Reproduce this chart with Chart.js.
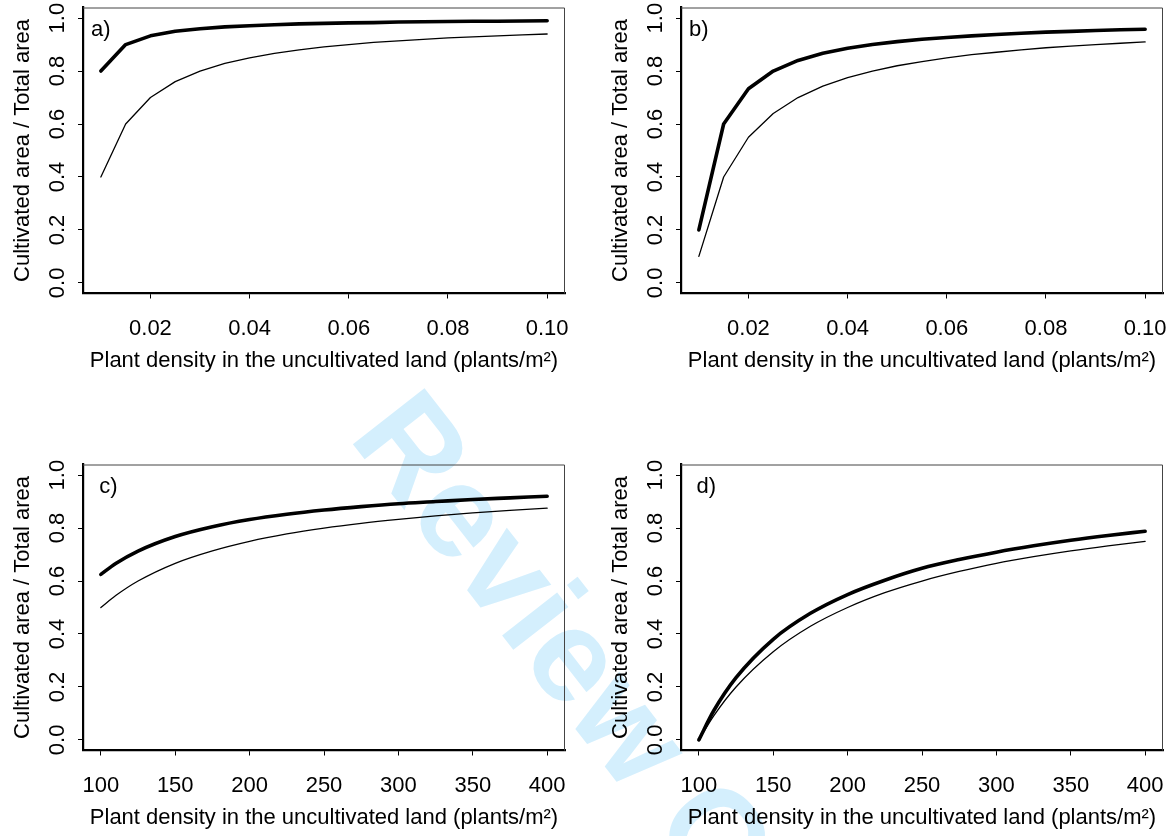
<!DOCTYPE html>
<html>
<head>
<meta charset="utf-8">
<script src="https://cdn.jsdelivr.net/npm/chart.js@4.4.1/dist/chart.umd.min.js"></script>
<style>
  html, body { margin: 0; padding: 0; background: #fff; }
  body { width: 1173px; height: 836px; position: relative; overflow: hidden; }
  canvas { position: absolute; z-index: 1; }
  #wm {
    position: absolute; left: 435px; top: 369px; z-index: 0;
    font: bold 132px "Liberation Sans", Arial, sans-serif; line-height: 1;
    color: #d4effd; white-space: nowrap;
    transform-origin: 0 0; transform: rotate(52deg);
  }
</style>
</head>
<body>
<div id="wm">Review Copy</div>
<canvas id="pa" width="586" height="375" style="left:0;top:0"></canvas>
<canvas id="pb" width="586" height="375" style="left:598px;top:0"></canvas>
<canvas id="pc" width="586" height="380" style="left:0;top:457px"></canvas>
<canvas id="pd" width="586" height="380" style="left:598px;top:457px"></canvas>
<script>
// plant density (plants/m2) for panels a and b
const xAB = [0.010, 0.015, 0.020, 0.025, 0.030, 0.035, 0.040, 0.045, 0.050, 0.055,
             0.060, 0.065, 0.070, 0.075, 0.080, 0.085, 0.090, 0.095, 0.100];
const aThick = [0.800, 0.900, 0.933, 0.950, 0.960, 0.967, 0.971, 0.975, 0.978, 0.980,
                0.982, 0.983, 0.985, 0.986, 0.987, 0.988, 0.988, 0.989, 0.990];
const aThin  = [0.400, 0.600, 0.700, 0.760, 0.800, 0.829, 0.850, 0.867, 0.880, 0.891,
                0.900, 0.908, 0.914, 0.920, 0.925, 0.929, 0.933, 0.937, 0.940];
const bThick = [0.200, 0.600, 0.733, 0.800, 0.840, 0.867, 0.886, 0.900, 0.911, 0.920,
                0.927, 0.933, 0.938, 0.943, 0.947, 0.950, 0.953, 0.956, 0.958];
const bThin  = [0.100, 0.400, 0.550, 0.640, 0.700, 0.743, 0.775, 0.800, 0.820, 0.836,
                0.850, 0.862, 0.871, 0.880, 0.888, 0.894, 0.900, 0.905, 0.910];

// plant density for panels c and d
const xCD = [100, 110, 125, 150, 175, 200, 225, 250, 275, 300, 325, 350, 375, 400];
const cThick = [0.625, 0.666, 0.713, 0.768, 0.805, 0.832, 0.852, 0.868, 0.881, 0.892, 0.900, 0.908, 0.914, 0.920];
const cThin  = [0.500, 0.545, 0.600, 0.667, 0.714, 0.750, 0.778, 0.800, 0.818, 0.833, 0.846, 0.857, 0.867, 0.875];
const dThick = [0.000, 0.110, 0.235, 0.380, 0.478, 0.549, 0.603, 0.648, 0.681, 0.709, 0.733, 0.754, 0.772, 0.788];
const dThin  = [0.000, 0.091, 0.200, 0.333, 0.429, 0.500, 0.556, 0.600, 0.636, 0.667, 0.692, 0.714, 0.733, 0.750];

const ticksAB = [0.02, 0.04, 0.06, 0.08, 0.10];
const ticksCD = [100, 150, 200, 250, 300, 350, 400];
const ticksY = [0, 0.2, 0.4, 0.6, 0.8, 1.0];

const xTitle = 'Plant density in the uncultivated land (plants/m\u00B2)';
const yTitle = 'Cultivated area / Total area';

Chart.defaults.font.family = '"Liberation Sans", Arial, sans-serif';
Chart.defaults.font.size = 22;
Chart.defaults.color = '#000';

const boxPlugin = {
  id: 'box',
  afterDraw(chart, args, opts) {
    const { ctx, chartArea: a, scales } = chart;
    ctx.save();
    ctx.strokeStyle = '#444';
    ctx.lineWidth = 1;
    ctx.beginPath();
    ctx.moveTo(a.left, a.top + 0.5);
    ctx.lineTo(a.right - 0.5, a.top + 0.5);
    ctx.lineTo(a.right - 0.5, a.bottom);
    ctx.stroke();
    ctx.font = '22px "Liberation Sans", Arial, sans-serif';
    ctx.fillStyle = '#000';
    ctx.textAlign = 'center';
    ctx.textBaseline = 'middle';
    ctx.fillText(opts.tag, scales.x.getPixelForValue(opts.tagX), scales.y.getPixelForValue(opts.tagY));
    ctx.restore();
  }
};

function pts(xs, ys) {
  return xs.map((x, i) => ({ x: x, y: ys[i] }));
}

function panel(id, xs, thick, thin, xTicks, digits, smooth, tag, tagX, titlePad) {
  const lo = xs[0], hi = xs[xs.length - 1], pad = (hi - lo) * 0.04;
  const canvas = document.getElementById(id);
  new Chart(canvas, {
    type: 'line',
    data: {
      datasets: [
        { data: pts(xs, thick), borderColor: '#000', borderWidth: 3.6, pointRadius: 0,
          borderCapStyle: 'round', borderJoinStyle: 'round',
          tension: smooth ? 0.4 : 0, cubicInterpolationMode: smooth ? 'monotone' : 'default' },
        { data: pts(xs, thin), borderColor: '#000', borderWidth: 1.3, pointRadius: 0,
          borderCapStyle: 'round', borderJoinStyle: 'round',
          tension: smooth ? 0.4 : 0, cubicInterpolationMode: smooth ? 'monotone' : 'default' }
      ]
    },
    options: {
      responsive: false,
      animation: false,
      events: [],
      layout: { padding: { top: 7.5, right: 21, left: 0, bottom: 0 } },
      plugins: {
        legend: { display: false },
        tooltip: { enabled: false },
        box: { tag: tag, tagX: tagX, tagY: 0.955 }
      },
      scales: {
        x: {
          type: 'linear', min: lo - pad, max: hi + pad,
          afterBuildTicks: s => { s.ticks = xTicks.map(v => ({ value: v })); },
          afterFit: s => { s.height = canvas.height - 293.5; s.paddingLeft = 0; s.paddingRight = 0; },
          ticks: { padding: 17, maxRotation: 0, autoSkip: false, callback: v => v.toFixed(digits) },
          grid: { drawOnChartArea: false, drawTicks: true, tickLength: 5, color: '#000', lineWidth: 1 },
          border: { display: true, color: '#000', width: 2.2 },
          title: { display: true, text: xTitle, padding: { top: 0, bottom: titlePad } }
        },
        y: {
          type: 'linear', min: -0.04, max: 1.04,
          afterBuildTicks: s => { s.ticks = ticksY.map(v => ({ value: v })); },
          afterFit: s => { s.width = 83; s.paddingTop = 0; s.paddingBottom = 0; },
          ticks: { padding: 5, minRotation: 90, maxRotation: 90, crossAlign: 'center', callback: v => v.toFixed(1) },
          grid: { drawOnChartArea: false, drawTicks: true, tickLength: 5, color: '#000', lineWidth: 1 },
          border: { display: true, color: '#000', width: 2.2 },
          title: { display: true, text: yTitle, padding: { top: 9.3, bottom: 0 } }
        }
      }
    },
    plugins: [boxPlugin]
  });
}

panel('pa', xAB, aThick, aThin, ticksAB, 2, false, 'a)', 0.010, 0.8);
panel('pb', xAB, bThick, bThin, ticksAB, 2, false, 'b)', 0.010, 0.8);
panel('pc', xCD, cThick, cThin, ticksCD, 0, true, 'c)', 105, 5.8);
panel('pd', xCD, dThick, dThin, ticksCD, 0, true, 'd)', 105, 5.8);
</script>
</body>
</html>
